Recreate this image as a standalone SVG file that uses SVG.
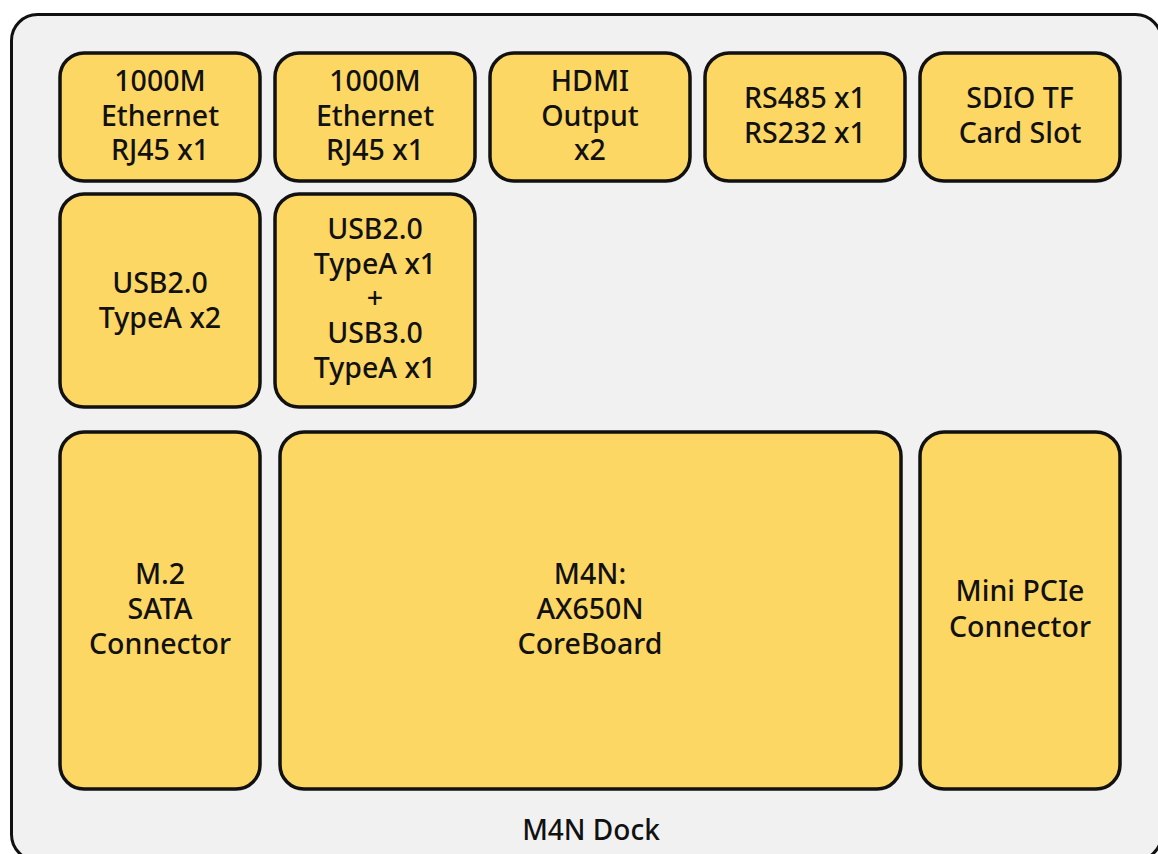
<svg xmlns="http://www.w3.org/2000/svg" width="1158" height="854" viewBox="0 0 1158 854">
<style>
.box{fill:#fdd764;stroke:#111;stroke-width:3.5}
.t{font-family:"Noto Sans","Open Sans",sans-serif;font-size:28.5px;font-weight:500;fill:#111;text-anchor:middle}
</style>
<rect x="0" y="0" width="1158" height="854" fill="#ffffff"/>
<g id="dock">
<rect x="11.5" y="14.5" width="1150" height="846" rx="26" fill="#f1f1f1" stroke="#111" stroke-width="3"/>
<text class="t" x="591" y="840" style="font-size:28px">M4N Dock</text>
</g>
<g id="connectors"></g>
<g id="eth1"><rect class="box" x="60" y="53" width="200" height="128" rx="24"/>
<text class="t" x="160" y="91">1000M</text><text class="t" x="160" y="125.5">Ethernet</text><text class="t" x="160" y="160">RJ45 x1</text></g>
<g id="eth2"><rect class="box" x="275" y="53" width="200" height="128" rx="24"/>
<text class="t" x="375" y="91">1000M</text><text class="t" x="375" y="125.5">Ethernet</text><text class="t" x="375" y="160">RJ45 x1</text></g>
<g id="hdmi"><rect class="box" x="490" y="53" width="200" height="128" rx="24"/>
<text class="t" x="590" y="91">HDMI</text><text class="t" x="590" y="125.5">Output</text><text class="t" x="590" y="160">x2</text></g>
<g id="serial"><rect class="box" x="705" y="53" width="200" height="128" rx="24"/>
<text class="t" x="805" y="108">RS485 x1</text><text class="t" x="805" y="142.5">RS232 x1</text></g>
<g id="sdio"><rect class="box" x="920" y="53" width="200" height="128" rx="24"/>
<text class="t" x="1020" y="108">SDIO TF</text><text class="t" x="1020" y="142.5">Card Slot</text></g>
<g id="usb2x2"><rect class="box" x="60" y="194" width="200" height="213" rx="24"/>
<text class="t" x="160" y="293">USB2.0</text><text class="t" x="160" y="327.5">TypeA x2</text></g>
<g id="usbmix"><rect class="box" x="275" y="194" width="200" height="213" rx="24"/>
<text class="t" x="375" y="239">USB2.0</text><text class="t" x="375" y="273.5">TypeA x1</text><text class="t" x="375" y="308">+</text><text class="t" x="375" y="343">USB3.0</text><text class="t" x="375" y="377.5">TypeA x1</text></g>
<g id="m2"><rect class="box" x="60" y="432" width="200" height="357" rx="24"/>
<text class="t" x="160" y="584">M.2</text><text class="t" x="160" y="619">SATA</text><text class="t" x="160" y="654">Connector</text></g>
<g id="core"><rect class="box" x="280" y="432" width="621" height="357" rx="24"/>
<text class="t" x="590" y="584">M4N:</text><text class="t" x="590" y="619">AX650N</text><text class="t" x="590" y="654">CoreBoard</text></g>
<g id="pcie"><rect class="box" x="920" y="432" width="200" height="357" rx="24"/>
<text class="t" x="1020" y="601">Mini PCIe</text><text class="t" x="1020" y="637">Connector</text></g>
</svg>
